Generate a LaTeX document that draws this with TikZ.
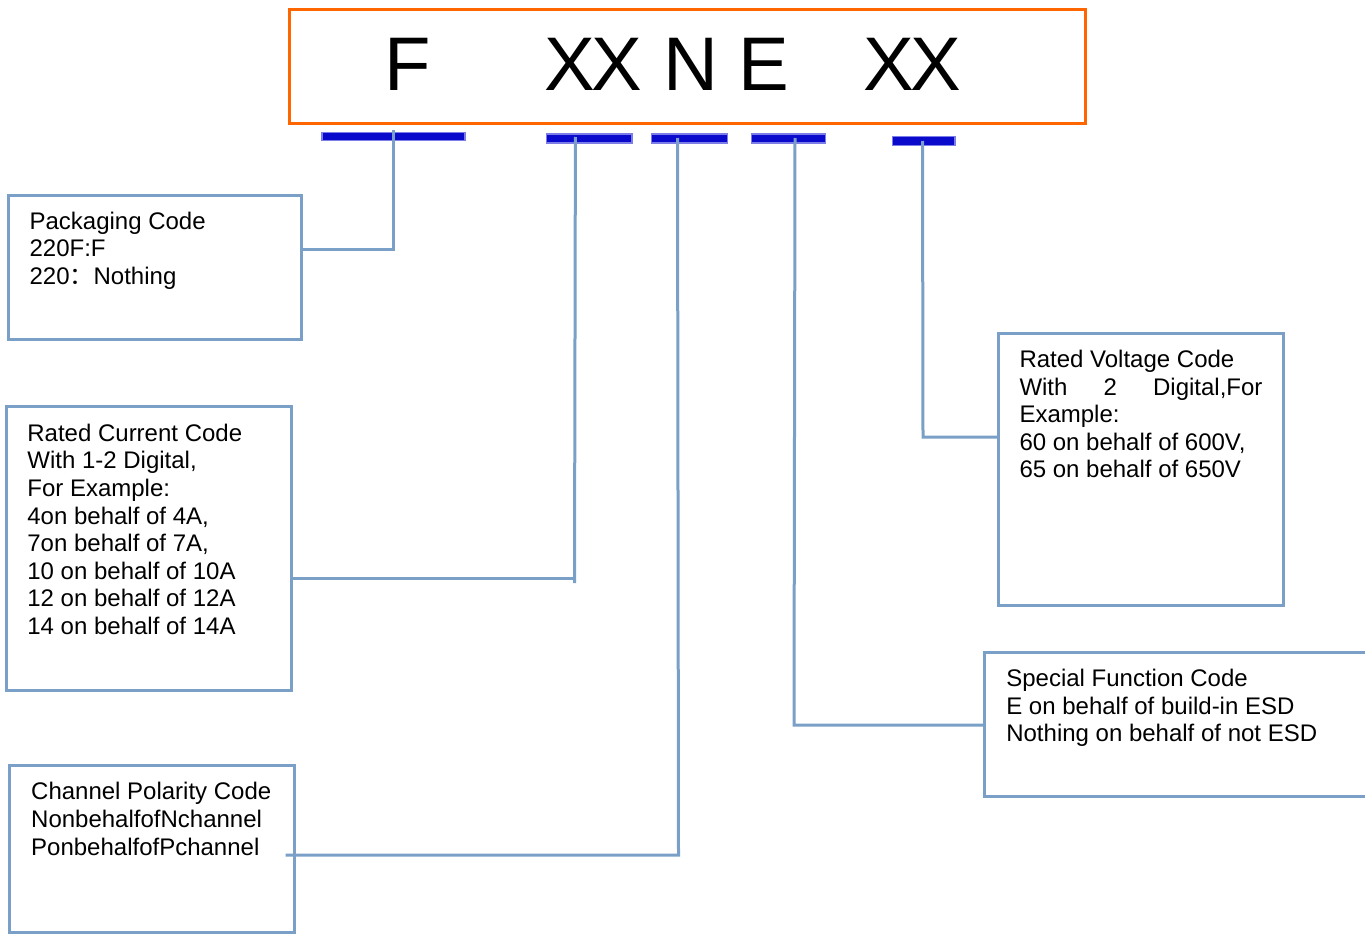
\documentclass[tikz,border=0pt]{standalone}
\usepackage{fontspec}
\setmainfont{Liberation Sans}
\newfontfamily\cjkfont{Noto Sans CJK SC}
\definecolor{orangeb}{RGB}{255,102,0}
\definecolor{linec}{RGB}{122,160,200}
\definecolor{bardark}{RGB}{10,10,205}
\definecolor{barlight}{RGB}{125,125,232}
\begin{document}
\begin{tikzpicture}[x=1pt,y=-1pt,
 box/.style={draw=linec, line width=3pt, rectangle, inner sep=0pt, outer sep=0pt},
 conn/.style={draw=linec, line width=3pt},
 lbl/.style={anchor=north west, inner sep=0pt, outer sep=0pt, align=left, font=\fontsize{24}{27.6}\selectfont},
 big/.style={font=\fontsize{76}{80}\selectfont, inner sep=0pt, anchor=base},
 bar/.style={rectangle, inner sep=0pt, outer sep=0pt, fill=bardark, draw=barlight, line width=1.8pt}
]
\fill[white] (0,0) rectangle (1365,934);
\useasboundingbox (0,0) rectangle (1365,934);

% code box
\node[box, draw=orangeb, minimum width=795.6pt, minimum height=114pt] (code) at (687.2,66.3) {};
\node[big] (lF) at (407.8,90.7) {F};
\node[big] (lXX1) at (593.4,90.7) {X\kern-4pt X};
\node[big] (lN) at (691,90.7) {N};
\node[big] (lE) at (763.8,90.7) {E};
\node[big] (lXX2) at (912.5,90.7) {X\kern-4pt X};

% bars
\node[bar, minimum width=143pt, minimum height=8pt] (b1) at (393.2,136.5) {};
\node[bar, minimum width=85.5pt, minimum height=9pt] (b2) at (589.25,138.5) {};
\node[bar, minimum width=76pt, minimum height=9pt] (b3) at (689.55,138.5) {};
\node[bar, minimum width=74pt, minimum height=9pt] (b4) at (788.4,138.5) {};
\node[bar, minimum width=62.5pt, minimum height=9pt] (b5) at (923.75,141) {};

% boxes
\node[box, minimum width=293.4pt, minimum height=144.3pt] (pkg) at (155,267.15) {};
\node[box, minimum width=284.5pt, minimum height=284pt] (cur) at (148.75,548) {};
\node[box, minimum width=284.7pt, minimum height=166.7pt] (chan) at (152.25,848.65) {};
\node[box, minimum width=285pt, minimum height=271.7pt] (volt) at (1140.8,469.15) {};
\node[box, minimum width=385.1pt, minimum height=144pt] (spec) at (1177.45,724.7) {};

% texts
\node[lbl] (pkgt) at (29.6,211.8) {Packaging Code\\220F:F\\220{\cjkfont ：}Nothing};
\node[lbl] (curt) at (27.4,424) {Rated Current Code\\With 1-2 Digital,\\For Example:\\4on behalf of 4A,\\7on behalf of 7A,\\10 on behalf of 10A\\12 on behalf of 12A\\14 on behalf of 14A};
\node[lbl] (chant) at (31.2,782.5) {Channel Polarity Code\\NonbehalfofNchannel\\PonbehalfofPchannel};
\node[lbl] (voltt) at (1019.5,350.2) {Rated Voltage Code\\\makebox[243pt][s]{With\hfill 2\hfill Digital,For}\\Example:\\60 on behalf of 600V,\\65 on behalf of 650V};
\node[lbl] (spect) at (1006.3,669.2) {Special Function Code\\E on behalf of build-in ESD\\Nothing on behalf of not ESD};

% connectors
\coordinate (t1) at (393.4,130);
\coordinate (k1) at (393.4,249);
\draw[conn] (t1) -- (k1) -- (k1 -| pkg.east);

\coordinate (t2) at (575.4,137);
\coordinate (e2) at (574.5,583);
\coordinate (k2) at (574.5,578);
\draw[conn] (t2) -- (e2);
\draw[conn] (k2) -- (k2 -| cur.east);

\coordinate (t3) at (677.5,138);
\coordinate (k3) at (678.5,855);
\coordinate (e3) at (285.6,855);
\draw[conn] (t3) -- (k3) -- (e3);

\coordinate (t4) at (795,138);
\coordinate (k4) at (794,725);
\draw[conn] (t4) -- (k4) -- (k4 -| spec.west);

\coordinate (t5) at (922.5,141);
\coordinate (k5) at (923,437);
\draw[conn] (t5) -- (k5) -- (k5 -| volt.west);
\end{tikzpicture}
\end{document}
